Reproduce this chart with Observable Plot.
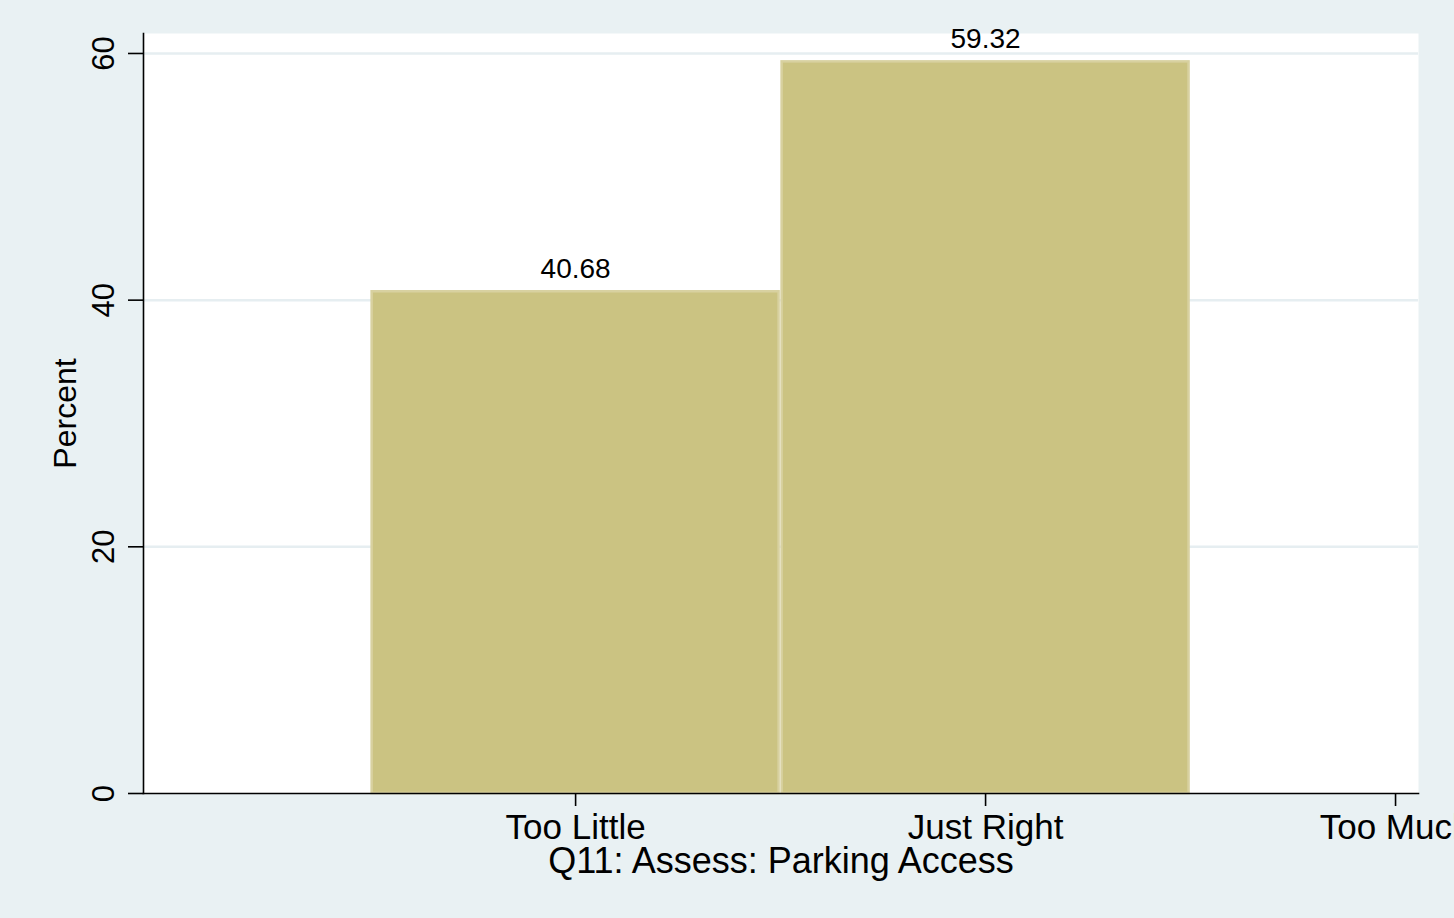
<!DOCTYPE html>
<html>
<head>
<meta charset="utf-8">
<script src="https://cdn.jsdelivr.net/npm/d3@7"></script>
<script src="https://cdn.jsdelivr.net/npm/@observablehq/plot@0.6"></script>
<style>
  html, body { margin: 0; padding: 0; background: #e9f1f3; overflow: hidden; }
  svg { display: block; }
</style>
</head>
<body>
<div id="chart"></div>
<script>
const categories = ["Too Little", "Just Right", "Too Much"];
const categoryCodes = [1, 2, 3];
const percents = [40.68, 59.32, 0];
const yTicks = [0, 20, 40, 60];
const xTitle = "Q11: Assess: Parking Access";
const yTitle = "Percent";

const data = categories.map((c, i) => ({category: c, code: categoryCodes[i], value: percents[i]}));
const bars = data.filter(d => d.value > 0);

const font = "'Liberation Sans', Arial, Helvetica, sans-serif";

const chart = Plot.plot({
  width: 1454,
  height: 918,
  marginLeft: 143,
  marginRight: 36,
  marginTop: 33,
  marginBottom: 125,
  style: {background: "#e9f1f3", fontFamily: font, color: "black", overflow: "hidden"},
  x: {type: "linear", domain: [-0.054, 3.056], axis: null},
  y: {domain: [0, 61.62], axis: null},
  marks: [
    Plot.frame({fill: "white", stroke: "none"}),
    Plot.ruleY(yTicks.filter(d => d > 0), {stroke: "#e6eef1", strokeWidth: 2.5}),
    Plot.rectY(bars, {
      x1: d => d.code - 0.5,
      x2: d => d.code + 0.5,
      y: "value",
      fill: "#cbc382",
      stroke: "#d8d1a0",
      strokeWidth: 2.5,
      insetLeft: 1.5,
      insetRight: 1.5
    }),
    Plot.text(bars, {
      x: "code",
      y: "value",
      text: d => d.value.toFixed(2),
      dy: -14,
      lineAnchor: "bottom",
      fontSize: 28,
      fill: "black"
    }),
    Plot.frame({anchor: "left", stroke: "black", strokeWidth: 1.6}),
    Plot.frame({anchor: "bottom", stroke: "black", strokeWidth: 1.6}),
    Plot.axisY(yTicks, {
      anchor: "left",
      label: null,
      tickSize: 15,
      tickPadding: 15,
      tickRotate: -90,
      fontSize: 31,
      stroke: "black",
      strokeWidth: 1.6,
      fill: "black"
    }),
    Plot.axisX(categoryCodes, {
      anchor: "bottom",
      label: null,
      tickSize: 13,
      tickPadding: 8,
      tickFormat: d => categories[d - 1],
      fontSize: 35,
      stroke: "black",
      strokeWidth: 1.6,
      fill: "black"
    }),
    Plot.text([yTitle], {
      frameAnchor: "left",
      rotate: -90,
      dx: -68,
      textAnchor: "middle",
      lineAnchor: "bottom",
      fontSize: 32,
      fill: "black"
    }),
    Plot.text([xTitle], {
      frameAnchor: "bottom",
      dy: 79,
      lineAnchor: "bottom",
      fontSize: 36,
      fill: "black"
    })
  ]
});

document.getElementById("chart").appendChild(chart);
</script>
</body>
</html>
